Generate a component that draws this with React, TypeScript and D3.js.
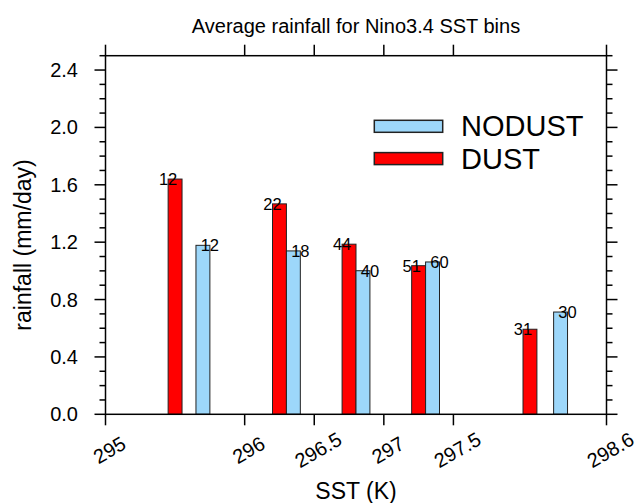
import { useEffect, useRef } from "react";
import * as d3 from "d3";

// bin-mean SST (K), mean rainfall (mm/day) and sample count per bin
const sstDust = [295.5, 296.25, 296.75, 297.25, 298.05];
const rainDust = [1.64, 1.467, 1.186, 1.036, 0.593];
const countDust = [12, 22, 44, 51, 31];

const sstNodust = [295.7, 296.35, 296.85, 297.35, 298.27];
const rainNodust = [1.178, 1.139, 1.001, 1.062, 0.713];
const countNodust = [12, 18, 40, 60, 30];

const xTicks = [295, 296, 296.5, 297, 297.5, 298.6];
const yTicks = [0, 0.4, 0.8, 1.2, 1.6, 2.0, 2.4];
const yMinor = [0.1, 0.2, 0.3, 0.5, 0.6, 0.7, 0.9, 1.0, 1.1, 1.3, 1.4, 1.5, 1.7, 1.8, 1.9, 2.1, 2.2, 2.3, 2.5];

const seriesNames = ["NODUST", "DUST"];

const BLUE = "#9dd7fa";
const RED = "#ff0000";
const FONT = "'Liberation Sans', Arial, Helvetica, sans-serif";

export default function App() {
  const svgRef = useRef<SVGSVGElement>(null);

  useEffect(() => {
    const width = 637;
    const height = 503;
    const left = 105.5, right = 606.5, top = 55.7, bottom = 414.3;

    const svg = d3.select(svgRef.current);
    svg.selectAll("*").remove();
    svg.attr("width", width).attr("height", height).style("font-family", FONT);

    const x = d3.scaleLinear().domain([295, 298.6]).range([left, right]);
    const y = d3.scaleLinear().domain([0, 2.5]).range([bottom, top]);
    const barW = x(295.1) - x(295);

    // bars
    const drawBars = (sst: number[], rain: number[], fill: string) =>
      svg.append("g")
        .selectAll("rect")
        .data(sst.map((s, i) => ({ s, r: rain[i] })))
        .join("rect")
        .attr("x", (d) => x(d.s) - barW / 2)
        .attr("y", (d) => y(d.r))
        .attr("width", barW)
        .attr("height", (d) => y(0) - y(d.r))
        .attr("fill", fill)
        .attr("stroke", "#222")
        .attr("stroke-width", 1);

    drawBars(sstDust, rainDust, RED);
    drawBars(sstNodust, rainNodust, BLUE);

    // count labels: DUST at bar's left edge, NODUST at right edge
    const labels = svg.append("g").attr("font-size", 16.5).attr("fill", "#000");
    labels.selectAll("text.dust")
      .data(sstDust.map((s, i) => ({ s, r: rainDust[i], n: countDust[i] })))
      .join("text")
      .attr("class", "dust")
      .attr("x", (d) => x(d.s) - barW / 2)
      .attr("y", (d) => y(d.r))
      .attr("text-anchor", "middle")
      .attr("dominant-baseline", "central")
      .text((d) => d.n);
    labels.selectAll("text.nodust")
      .data(sstNodust.map((s, i) => ({ s, r: rainNodust[i], n: countNodust[i] })))
      .join("text")
      .attr("class", "nodust")
      .attr("x", (d) => x(d.s) + barW / 2)
      .attr("y", (d) => y(d.r))
      .attr("text-anchor", "middle")
      .attr("dominant-baseline", "central")
      .text((d) => d.n);

    // frame + ticks (outward on all four sides)
    const ax = svg.append("g").attr("stroke", "#000").attr("stroke-width", 1.5);
    ax.append("rect")
      .attr("x", left).attr("y", top)
      .attr("width", right - left).attr("height", bottom - top)
      .attr("fill", "none");

    const major = 11, minor = 6;
    yTicks.forEach((t) => {
      ax.append("line").attr("x1", left - major).attr("x2", left).attr("y1", y(t)).attr("y2", y(t));
      ax.append("line").attr("x1", right).attr("x2", right + major).attr("y1", y(t)).attr("y2", y(t));
    });
    yMinor.forEach((t) => {
      ax.append("line").attr("x1", left - minor).attr("x2", left).attr("y1", y(t)).attr("y2", y(t));
      ax.append("line").attr("x1", right).attr("x2", right + minor).attr("y1", y(t)).attr("y2", y(t));
    });
    xTicks.forEach((t) => {
      ax.append("line").attr("x1", x(t)).attr("x2", x(t)).attr("y1", bottom).attr("y2", bottom + major);
      ax.append("line").attr("x1", x(t)).attr("x2", x(t)).attr("y1", top - major).attr("y2", top);
    });

    // y tick labels
    const fmt = d3.format(".1f");
    svg.append("g")
      .attr("font-size", 20)
      .selectAll("text")
      .data(yTicks)
      .join("text")
      .attr("x", 78)
      .attr("y", (d) => y(d))
      .attr("text-anchor", "end")
      .attr("dominant-baseline", "central")
      .text((d) => fmt(d));

    // x tick labels, rotated
    svg.append("g")
      .attr("font-size", 20)
      .selectAll("text")
      .data(xTicks)
      .join("text")
      .attr("transform", (d) => `translate(${x(d) + 4},450) rotate(-30)`)
      .attr("text-anchor", "middle")
      .attr("dominant-baseline", "central")
      .text((d) => String(d));

    // titles
    svg.append("text")
      .attr("x", (left + right) / 2)
      .attr("y", 32.5)
      .attr("text-anchor", "middle")
      .attr("font-size", 20)
      .text("Average rainfall for Nino3.4 SST bins");

    svg.append("text")
      .attr("x", (left + right) / 2)
      .attr("y", 499)
      .attr("text-anchor", "middle")
      .attr("font-size", 23)
      .text("SST (K)");

    svg.append("text")
      .attr("transform", "translate(31,245) rotate(-90)")
      .attr("text-anchor", "middle")
      .attr("font-size", 23)
      .text("rainfall (mm/day)");

    // legend
    const legend = svg.append("g");
    const legendColors = [BLUE, RED];
    seriesNames.forEach((name, i) => {
      const cy = 126.3 + i * 32.3;
      legend.append("rect")
        .attr("x", 374.3).attr("y", cy - 6)
        .attr("width", 68.4).attr("height", 12)
        .attr("fill", legendColors[i])
        .attr("stroke", "#222")
        .attr("stroke-width", 1.5);
      legend.append("text")
        .attr("x", 461)
        .attr("y", cy)
        .attr("dominant-baseline", "central")
        .attr("font-size", 29)
        .text(name);
    });
  }, []);

  return (
    <div style={{ position: "absolute", left: 0, top: 0 }}>
      <svg ref={svgRef} style={{ display: "block", background: "#fff" }} />
    </div>
  );
}
